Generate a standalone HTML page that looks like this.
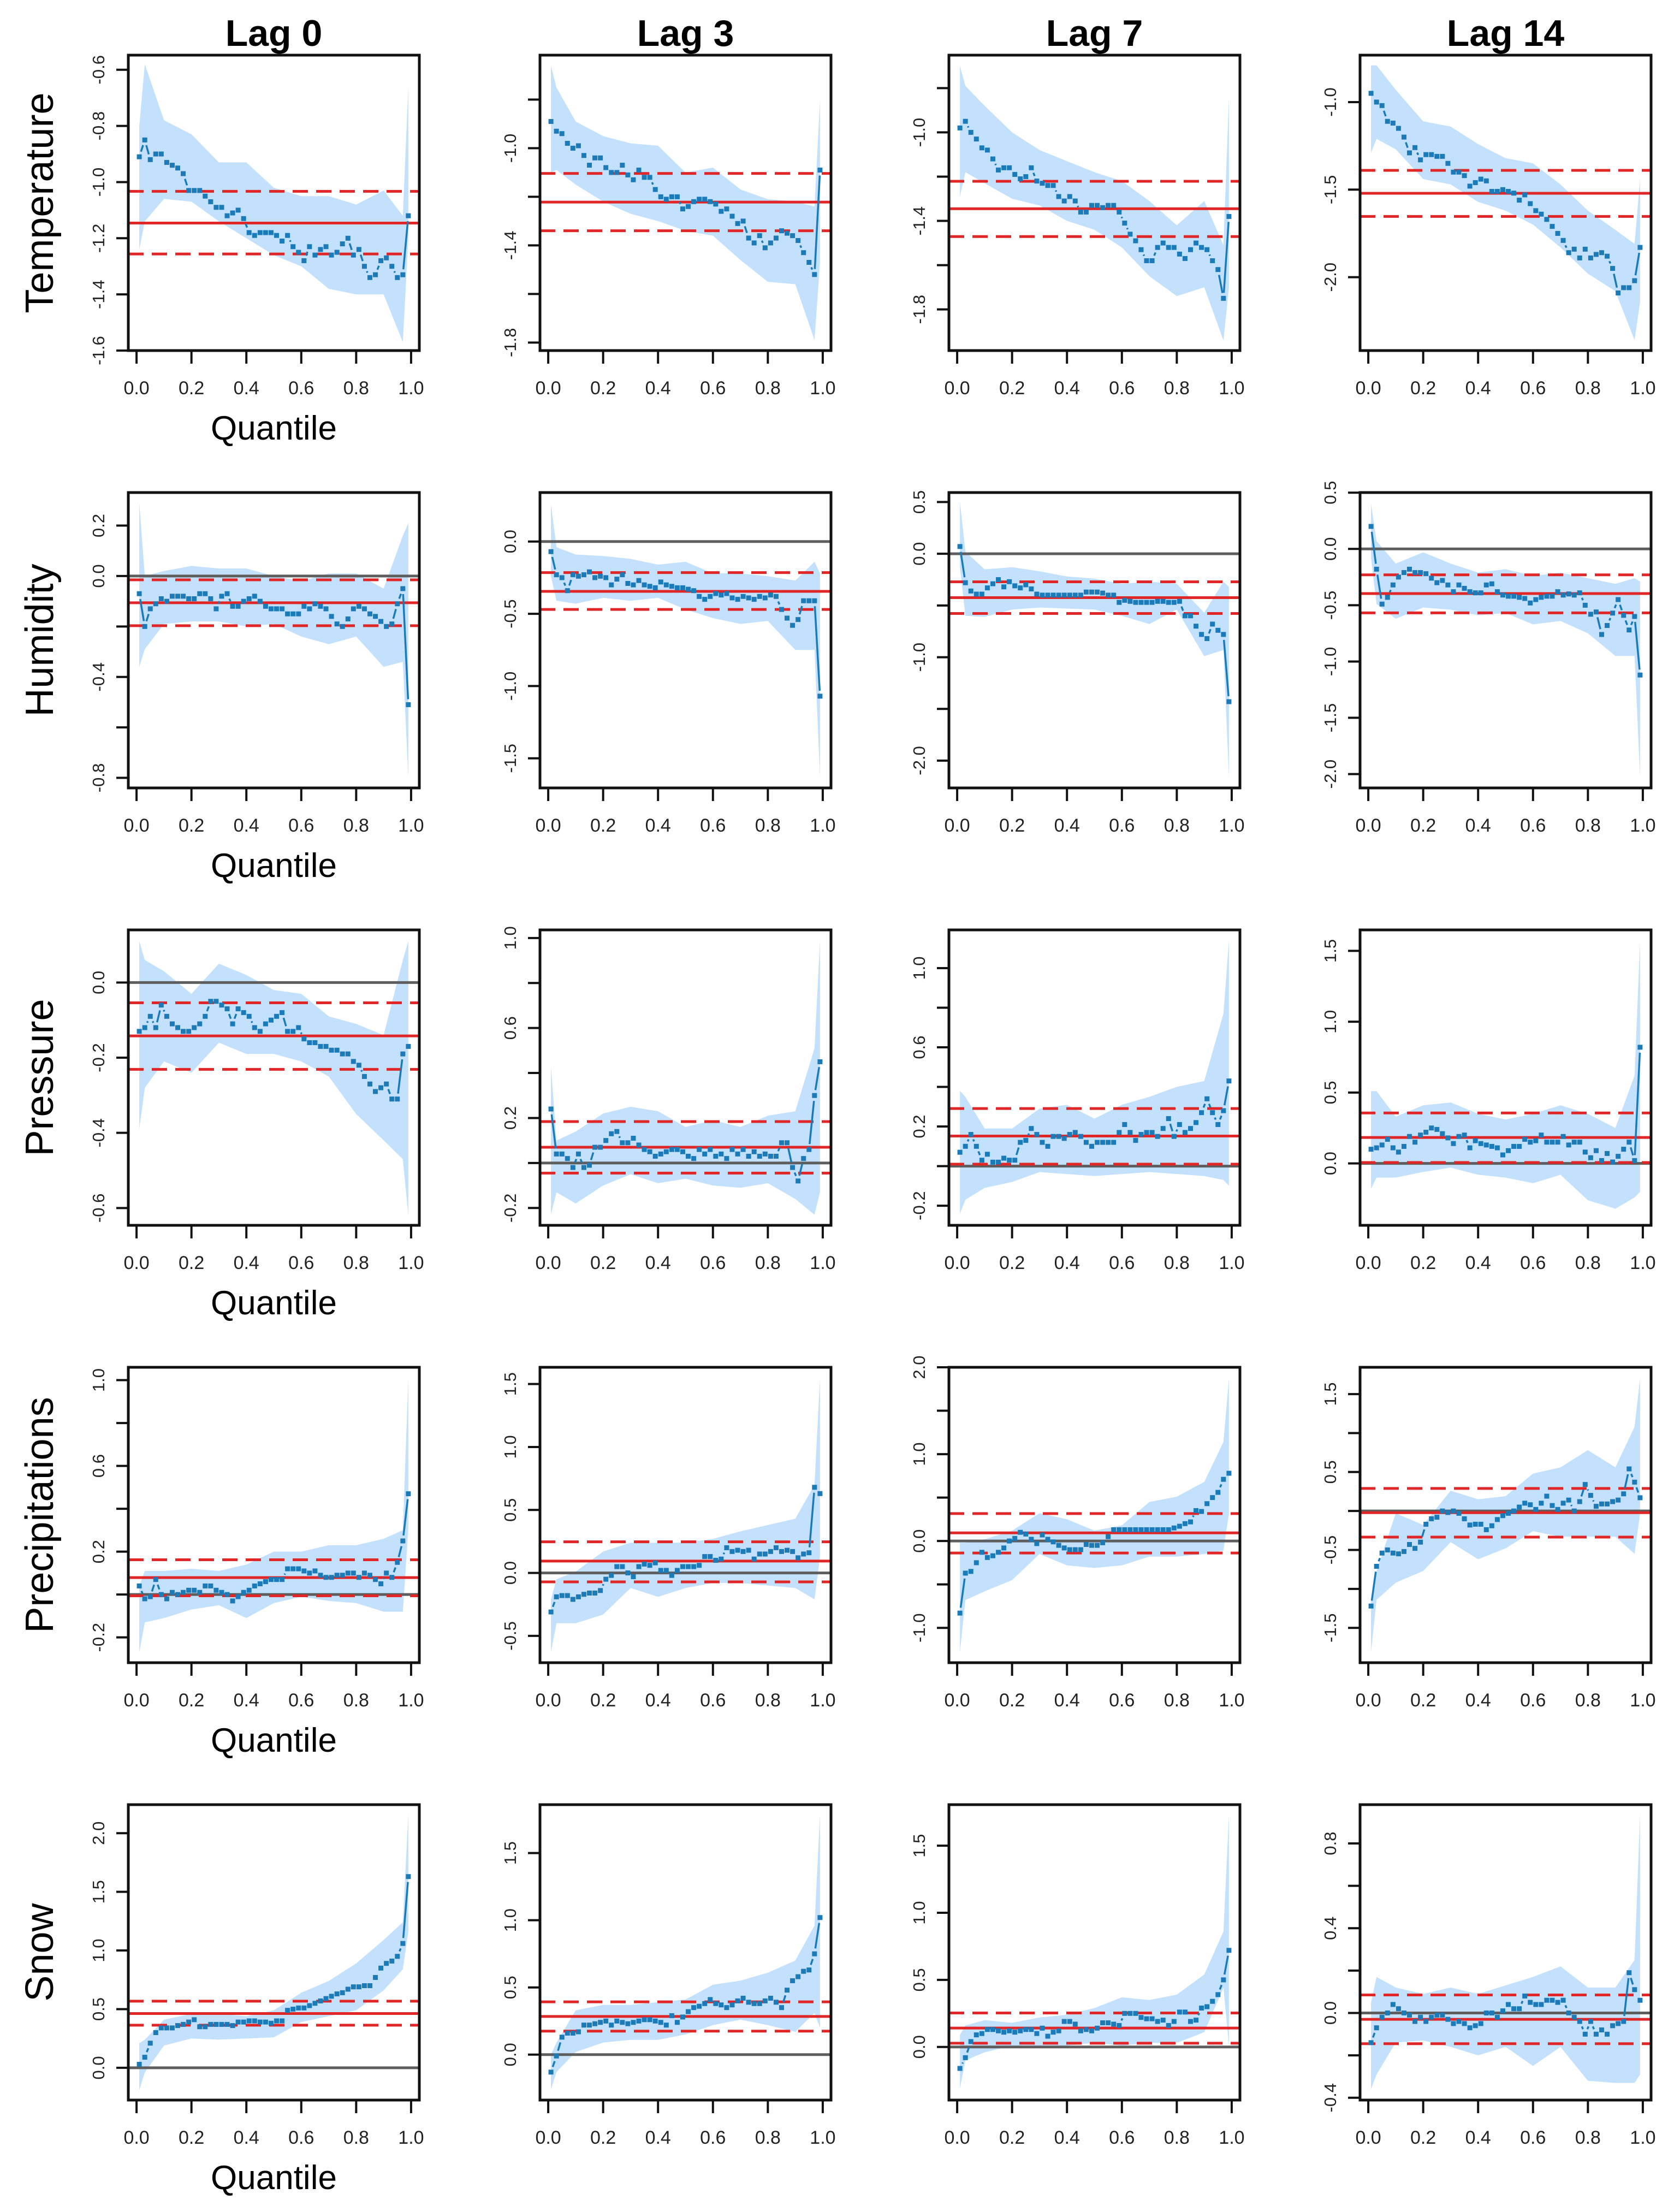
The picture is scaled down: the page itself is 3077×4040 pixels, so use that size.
<!DOCTYPE html>
<html><head><meta charset="utf-8"><title>Quantile effects by lag</title>
<style>
html,body{margin:0;padding:0;background:#fff;}
svg{display:block;font-family:"Liberation Sans",Arial,sans-serif;}
</style></head>
<body>
<svg id="fig" xmlns="http://www.w3.org/2000/svg" width="3077" height="4040" viewBox="0 0 3077 4040"></svg>
<script>
// ---------- DATA ----------
const quantiles = [0.01,0.03,0.05,0.07,0.09,0.11,0.13,0.15,0.17,0.19,0.21,0.23,0.25,0.27,0.29,0.31,0.33,0.35,0.37,0.39,0.41,0.43,0.45,0.47,0.49,0.51,0.53,0.55,0.57,0.59,0.61,0.63,0.65,0.67,0.69,0.71,0.73,0.75,0.77,0.79,0.81,0.83,0.85,0.87,0.89,0.91,0.93,0.95,0.97,0.99];
const bandX = [0.01,0.03,0.1,0.2,0.3,0.4,0.5,0.6,0.7,0.8,0.9,0.97,0.99];
const rowNames = ["Temperature","Humidity","Pressure","Precipitations","Snow"];
const lagNames = ["Lag 0","Lag 3","Lag 7","Lag 14"];
const xTickVals = [0,0.2,0.4,0.6,0.8,1.0];
const xTickLabels = ["0.0","0.2","0.4","0.6","0.8","1.0"];

// Mean estimate (solid red) and its bounds (dashed red), panel order row-major
const meanEst = [-1.146,-1.222,-1.345,-1.521, -0.106,-0.345,-0.424,-0.396, -0.142,0.070,0.152,0.183, 0.079,0.094,0.094,-0.022, 0.463,0.284,0.141,-0.030];
const meanHi  = [-1.033,-1.104,-1.221,-1.390, -0.015,-0.215,-0.271,-0.230, -0.054,0.184,0.291,0.356, 0.162,0.247,0.316,0.289, 0.568,0.393,0.253,0.085];
const meanLo  = [-1.256,-1.340,-1.471,-1.653, -0.197,-0.470,-0.577,-0.568, -0.231,-0.045,0.010,0.006, -0.006,-0.071,-0.138,-0.335, 0.363,0.175,0.028,-0.145];

// Quantile estimates (points)
const temp0 = [-0.91,-0.85,-0.92,-0.90,-0.90,-0.93,-0.94,-0.95,-0.97,-1.03,-1.03,-1.03,-1.05,-1.07,-1.09,-1.09,-1.12,-1.11,-1.10,-1.13,-1.18,-1.19,-1.18,-1.18,-1.18,-1.19,-1.21,-1.19,-1.23,-1.25,-1.28,-1.23,-1.26,-1.24,-1.23,-1.26,-1.25,-1.22,-1.20,-1.26,-1.24,-1.30,-1.34,-1.33,-1.28,-1.27,-1.30,-1.34,-1.33,-1.12];
const temp3 = [-0.89,-0.93,-0.94,-0.98,-1.00,-0.99,-1.03,-1.07,-1.04,-1.04,-1.08,-1.10,-1.10,-1.07,-1.11,-1.13,-1.09,-1.12,-1.12,-1.17,-1.20,-1.21,-1.20,-1.20,-1.25,-1.24,-1.22,-1.21,-1.21,-1.22,-1.23,-1.26,-1.25,-1.28,-1.31,-1.30,-1.37,-1.39,-1.36,-1.41,-1.39,-1.37,-1.34,-1.35,-1.36,-1.38,-1.43,-1.47,-1.52,-1.09];
const temp7 = [-0.98,-0.95,-1.00,-1.03,-1.07,-1.08,-1.12,-1.17,-1.16,-1.16,-1.19,-1.21,-1.20,-1.16,-1.22,-1.23,-1.24,-1.24,-1.29,-1.31,-1.29,-1.31,-1.36,-1.36,-1.33,-1.33,-1.34,-1.33,-1.33,-1.36,-1.41,-1.46,-1.49,-1.53,-1.58,-1.58,-1.52,-1.50,-1.52,-1.52,-1.55,-1.57,-1.53,-1.50,-1.52,-1.53,-1.58,-1.62,-1.75,-1.38];
const temp14 = [-0.95,-1.00,-1.02,-1.11,-1.12,-1.15,-1.20,-1.29,-1.26,-1.33,-1.30,-1.30,-1.31,-1.31,-1.35,-1.40,-1.40,-1.42,-1.48,-1.46,-1.44,-1.45,-1.51,-1.51,-1.50,-1.51,-1.52,-1.56,-1.53,-1.58,-1.62,-1.64,-1.67,-1.71,-1.75,-1.79,-1.86,-1.84,-1.89,-1.84,-1.89,-1.87,-1.86,-1.88,-1.95,-2.09,-2.06,-2.06,-2.02,-1.83];
const hum0 = [-0.07,-0.20,-0.13,-0.11,-0.09,-0.10,-0.08,-0.08,-0.08,-0.09,-0.09,-0.07,-0.07,-0.09,-0.13,-0.08,-0.07,-0.12,-0.12,-0.10,-0.09,-0.08,-0.10,-0.12,-0.13,-0.13,-0.13,-0.15,-0.15,-0.15,-0.12,-0.13,-0.11,-0.12,-0.13,-0.16,-0.19,-0.20,-0.17,-0.13,-0.12,-0.13,-0.15,-0.16,-0.18,-0.20,-0.19,-0.11,-0.05,-0.51];
const hum3 = [-0.07,-0.23,-0.25,-0.34,-0.23,-0.24,-0.23,-0.21,-0.25,-0.24,-0.25,-0.30,-0.26,-0.23,-0.29,-0.30,-0.27,-0.30,-0.31,-0.32,-0.28,-0.30,-0.31,-0.32,-0.32,-0.33,-0.34,-0.38,-0.40,-0.38,-0.36,-0.37,-0.36,-0.39,-0.40,-0.38,-0.39,-0.40,-0.38,-0.39,-0.37,-0.38,-0.47,-0.53,-0.58,-0.54,-0.41,-0.41,-0.41,-1.07];
const hum7 = [0.07,-0.28,-0.36,-0.39,-0.39,-0.33,-0.29,-0.25,-0.32,-0.27,-0.31,-0.33,-0.30,-0.34,-0.39,-0.40,-0.40,-0.40,-0.40,-0.40,-0.40,-0.40,-0.40,-0.37,-0.37,-0.37,-0.38,-0.40,-0.40,-0.47,-0.45,-0.46,-0.47,-0.47,-0.47,-0.47,-0.46,-0.46,-0.47,-0.47,-0.46,-0.60,-0.60,-0.70,-0.78,-0.82,-0.68,-0.74,-0.78,-1.43];
const hum14 = [0.20,-0.18,-0.49,-0.43,-0.32,-0.25,-0.21,-0.18,-0.21,-0.21,-0.22,-0.26,-0.30,-0.28,-0.32,-0.38,-0.32,-0.35,-0.38,-0.39,-0.39,-0.32,-0.31,-0.38,-0.41,-0.42,-0.42,-0.43,-0.44,-0.48,-0.45,-0.43,-0.42,-0.42,-0.38,-0.41,-0.40,-0.41,-0.39,-0.50,-0.58,-0.56,-0.76,-0.68,-0.57,-0.45,-0.59,-0.72,-0.60,-1.12];
const pres0 = [-0.13,-0.12,-0.09,-0.12,-0.06,-0.09,-0.11,-0.12,-0.13,-0.13,-0.12,-0.11,-0.09,-0.05,-0.05,-0.06,-0.07,-0.11,-0.07,-0.08,-0.09,-0.12,-0.13,-0.11,-0.10,-0.09,-0.08,-0.13,-0.13,-0.12,-0.15,-0.16,-0.16,-0.17,-0.17,-0.18,-0.18,-0.19,-0.19,-0.21,-0.22,-0.25,-0.27,-0.29,-0.28,-0.27,-0.31,-0.31,-0.19,-0.17];
const pres3 = [0.24,0.04,0.04,0.02,-0.02,0.04,-0.02,-0.01,0.07,0.07,0.10,0.13,0.14,0.09,0.09,0.11,0.08,0.06,0.05,0.03,0.04,0.05,0.06,0.06,0.05,0.03,0.02,0.06,0.04,0.06,0.03,0.04,0.02,0.06,0.04,0.06,0.03,0.05,0.03,0.04,0.03,0.03,0.09,0.09,-0.02,-0.08,0.02,0.06,0.30,0.45];
const pres7 = [0.07,0.10,0.16,0.10,0.03,0.06,0.02,0.02,0.04,0.03,0.03,0.12,0.13,0.19,0.16,0.12,0.10,0.15,0.15,0.14,0.16,0.17,0.15,0.12,0.10,0.12,0.12,0.12,0.12,0.17,0.21,0.17,0.13,0.16,0.17,0.17,0.15,0.19,0.24,0.15,0.21,0.17,0.19,0.22,0.27,0.34,0.27,0.21,0.28,0.43];
const pres14 = [0.10,0.11,0.13,0.17,0.11,0.08,0.12,0.19,0.15,0.20,0.22,0.25,0.24,0.21,0.18,0.14,0.19,0.20,0.11,0.16,0.14,0.13,0.12,0.11,0.06,0.09,0.12,0.12,0.17,0.15,0.16,0.20,0.15,0.15,0.15,0.19,0.13,0.15,0.15,0.08,0.04,0.09,0.02,0.07,0.01,0.05,0.10,0.15,0.02,0.82];
const prec0 = [0.04,-0.02,-0.01,0.07,0.00,-0.02,0.01,0.00,0.01,0.02,0.02,0.01,0.04,0.04,0.02,0.01,0.00,-0.03,-0.01,0.01,0.02,0.04,0.05,0.06,0.07,0.07,0.07,0.12,0.12,0.12,0.11,0.10,0.11,0.09,0.08,0.08,0.09,0.09,0.10,0.10,0.08,0.10,0.09,0.07,0.05,0.10,0.08,0.15,0.25,0.47];
const prec3 = [-0.31,-0.19,-0.18,-0.18,-0.21,-0.19,-0.17,-0.16,-0.16,-0.14,-0.05,-0.02,0.05,0.05,0.00,-0.03,0.05,0.07,0.06,0.08,0.02,0.02,-0.02,0.02,0.05,0.05,0.05,0.06,0.13,0.13,0.10,0.11,0.20,0.17,0.18,0.17,0.18,0.11,0.15,0.15,0.17,0.20,0.17,0.18,0.17,0.12,0.15,0.16,0.68,0.63];
const prec7 = [-0.83,-0.37,-0.35,-0.25,-0.13,-0.19,-0.17,-0.13,-0.08,0.00,0.03,0.10,0.08,0.02,-0.03,0.07,0.02,-0.01,-0.05,-0.08,-0.10,-0.10,-0.10,-0.04,-0.05,-0.05,-0.02,0.05,0.13,0.13,0.13,0.13,0.13,0.13,0.13,0.13,0.13,0.13,0.13,0.15,0.17,0.20,0.22,0.35,0.34,0.43,0.50,0.56,0.71,0.78];
const prec14 = [-1.22,-0.71,-0.54,-0.50,-0.54,-0.55,-0.52,-0.43,-0.48,-0.40,-0.17,-0.10,-0.08,0.00,-0.02,0.00,-0.03,-0.10,-0.18,-0.17,-0.17,-0.24,-0.19,-0.11,-0.06,-0.03,0.00,0.05,0.10,0.08,0.02,0.10,0.19,0.07,0.02,0.10,0.14,0.00,0.12,0.34,0.20,0.06,0.09,0.09,0.12,0.14,0.22,0.54,0.37,0.17];
const snow0 = [0.03,0.09,0.21,0.30,0.34,0.34,0.34,0.36,0.37,0.39,0.41,0.35,0.35,0.37,0.37,0.37,0.37,0.36,0.39,0.39,0.40,0.40,0.39,0.39,0.38,0.40,0.40,0.49,0.50,0.51,0.51,0.53,0.55,0.57,0.59,0.61,0.63,0.64,0.67,0.69,0.69,0.70,0.70,0.77,0.85,0.89,0.91,0.95,1.06,1.63];
const snow3 = [-0.13,-0.01,0.13,0.16,0.16,0.17,0.22,0.22,0.23,0.24,0.25,0.22,0.25,0.24,0.23,0.24,0.25,0.26,0.26,0.25,0.24,0.22,0.29,0.24,0.28,0.32,0.35,0.36,0.38,0.41,0.38,0.37,0.35,0.37,0.40,0.42,0.39,0.38,0.38,0.40,0.42,0.39,0.35,0.48,0.55,0.58,0.62,0.63,0.75,1.02];
const snow7 = [-0.16,-0.08,0.04,0.09,0.10,0.13,0.13,0.12,0.11,0.12,0.11,0.12,0.13,0.13,0.10,0.14,0.08,0.11,0.12,0.19,0.19,0.17,0.12,0.13,0.12,0.14,0.18,0.18,0.17,0.16,0.25,0.25,0.25,0.22,0.21,0.21,0.19,0.20,0.16,0.19,0.26,0.26,0.19,0.20,0.29,0.30,0.34,0.39,0.50,0.72];
const snow14 = [-0.14,-0.07,-0.02,0.00,0.04,0.02,0.00,-0.01,-0.04,-0.02,-0.04,-0.02,-0.01,-0.01,-0.03,-0.05,-0.04,-0.05,-0.07,-0.06,-0.05,0.00,0.00,-0.02,0.01,0.04,0.02,0.02,0.08,0.05,0.04,0.04,0.06,0.06,0.05,0.06,0.00,-0.02,-0.04,-0.10,-0.04,-0.10,-0.08,-0.10,-0.06,-0.05,-0.04,0.19,0.11,0.06];

// Confidence bands (upper / lower) at bandX
const temp0Hi=[-0.80,-0.58,-0.78,-0.83,-0.93,-0.93,-1.02,-1.05,-1.05,-1.08,-1.03,-1.12,-0.66];
const temp0Lo=[-1.24,-1.14,-1.06,-1.07,-1.14,-1.20,-1.26,-1.30,-1.38,-1.40,-1.40,-1.57,-1.20];
const temp3Hi=[-0.66,-0.75,-0.89,-0.95,-0.98,-0.99,-1.10,-1.08,-1.17,-1.21,-1.22,-1.24,-0.80];
const temp3Lo=[-1.10,-1.09,-1.15,-1.22,-1.27,-1.30,-1.34,-1.36,-1.46,-1.55,-1.56,-1.79,-1.47];
const temp7Hi=[-0.70,-0.79,-0.88,-1.00,-1.08,-1.13,-1.18,-1.22,-1.31,-1.42,-1.31,-1.51,-0.84];
const temp7Lo=[-1.29,-1.18,-1.23,-1.30,-1.33,-1.40,-1.44,-1.52,-1.65,-1.74,-1.70,-1.94,-1.70];
const temp14Hi=[-0.79,-0.79,-0.93,-1.11,-1.14,-1.24,-1.32,-1.35,-1.47,-1.62,-1.73,-1.81,-1.44];
const temp14Lo=[-1.29,-1.21,-1.27,-1.44,-1.47,-1.57,-1.62,-1.70,-1.83,-1.98,-2.08,-2.36,-2.14];
const hum0Hi=[0.29,0.00,0.02,0.04,0.03,0.03,0.00,-0.02,0.01,0.01,-0.05,0.16,0.21];
const hum0Lo=[-0.36,-0.29,-0.19,-0.18,-0.18,-0.20,-0.19,-0.24,-0.27,-0.24,-0.36,-0.34,-0.80];
const hum3Hi=[0.26,-0.04,-0.09,-0.10,-0.12,-0.16,-0.14,-0.22,-0.22,-0.24,-0.27,-0.14,-0.22];
const hum3Lo=[-0.24,-0.41,-0.43,-0.39,-0.41,-0.39,-0.47,-0.53,-0.57,-0.55,-0.75,-0.75,-1.63];
const hum7Hi=[0.50,0.02,-0.15,-0.13,-0.17,-0.22,-0.24,-0.29,-0.27,-0.29,-0.57,-0.27,-0.32];
const hum7Lo=[-0.13,-0.60,-0.61,-0.54,-0.52,-0.53,-0.54,-0.60,-0.68,-0.54,-0.99,-0.93,-2.16];
const hum14Hi=[0.40,0.07,-0.13,-0.03,-0.13,-0.21,-0.18,-0.24,-0.21,-0.26,-0.31,-0.26,-0.29];
const hum14Lo=[-0.08,-0.49,-0.62,-0.52,-0.54,-0.59,-0.57,-0.67,-0.64,-0.75,-0.95,-0.95,-2.03];
const pres0Hi=[0.11,0.06,0.03,-0.03,0.05,0.02,-0.02,-0.03,-0.09,-0.11,-0.14,0.06,0.11];
const pres0Lo=[-0.39,-0.28,-0.21,-0.24,-0.16,-0.19,-0.19,-0.21,-0.25,-0.35,-0.42,-0.47,-0.62];
const pres3Hi=[0.43,0.10,0.14,0.22,0.25,0.23,0.16,0.19,0.16,0.21,0.23,0.51,0.99];
const pres3Lo=[-0.23,-0.13,-0.18,-0.10,-0.05,-0.09,-0.07,-0.10,-0.11,-0.09,-0.16,-0.23,-0.13];
const pres7Hi=[0.38,0.35,0.19,0.19,0.29,0.31,0.24,0.31,0.35,0.40,0.43,0.77,1.14];
const pres7Lo=[-0.24,-0.17,-0.11,-0.08,-0.03,-0.04,-0.05,-0.04,-0.03,-0.04,-0.05,-0.07,-0.10];
const pres14Hi=[0.51,0.51,0.33,0.41,0.43,0.35,0.31,0.35,0.41,0.35,0.25,0.62,1.57];
const pres14Lo=[-0.18,-0.10,-0.10,-0.06,-0.03,-0.08,-0.10,-0.14,-0.08,-0.26,-0.32,-0.24,-0.20];
const prec0Hi=[0.04,0.11,0.11,0.12,0.11,0.14,0.20,0.20,0.23,0.23,0.26,0.30,1.01];
const prec0Lo=[-0.27,-0.13,-0.11,-0.07,-0.05,-0.11,-0.04,-0.01,-0.03,-0.04,-0.08,-0.08,0.31];
const prec3Hi=[-0.21,-0.05,0.01,0.17,0.24,0.24,0.24,0.27,0.33,0.38,0.43,0.70,1.55];
const prec3Lo=[-0.63,-0.40,-0.40,-0.33,-0.12,-0.19,-0.12,-0.08,-0.08,-0.10,-0.12,-0.21,0.13];
const prec7Hi=[-0.02,-0.02,0.02,0.12,0.32,0.25,0.12,0.18,0.45,0.51,0.68,1.14,1.87];
const prec7Lo=[-1.28,-0.68,-0.58,-0.45,-0.15,-0.28,-0.31,-0.28,-0.18,-0.18,-0.15,-0.11,0.32];
const prec14Hi=[-1.14,-0.77,-0.03,-0.18,0.26,0.15,0.19,0.48,0.56,0.78,0.56,1.08,1.70];
const prec14Lo=[-1.81,-1.14,-0.92,-0.77,-0.40,-0.62,-0.48,-0.26,-0.33,-0.33,-0.33,-0.55,-0.03];
const snow0Hi=[0.21,0.24,0.41,0.46,0.46,0.44,0.49,0.64,0.74,0.89,1.09,1.24,2.16];
const snow0Lo=[-0.19,-0.04,0.19,0.25,0.24,0.25,0.26,0.39,0.44,0.49,0.66,0.84,1.16];
const snow3Hi=[0.00,0.09,0.33,0.37,0.37,0.39,0.41,0.52,0.55,0.61,0.70,0.96,1.79];
const snow3Lo=[-0.26,-0.13,0.02,0.09,0.11,0.11,0.15,0.22,0.26,0.22,0.17,0.31,0.20];
const snow7Hi=[0.09,0.16,0.20,0.18,0.22,0.24,0.29,0.37,0.35,0.39,0.54,0.86,1.73];
const snow7Lo=[-0.31,-0.10,-0.04,0.01,0.01,0.01,0.03,0.01,0.03,0.03,0.11,0.44,0.01];
const snow14Hi=[0.05,0.17,0.12,0.09,0.12,0.09,0.13,0.17,0.22,0.12,0.12,0.25,0.94];
const snow14Lo=[-0.36,-0.29,-0.14,-0.13,-0.16,-0.20,-0.16,-0.25,-0.16,-0.32,-0.33,-0.33,-0.29];

// Y axis ticks (labels '' = unlabeled tick)
const yTicks = [
 [-0.6,-0.8,-1.0,-1.2,-1.4,-1.6],[-0.8,-1.0,-1.2,-1.4,-1.6,-1.8],[-0.8,-1.0,-1.2,-1.4,-1.6,-1.8],[-1.0,-1.5,-2.0],
 [0.2,0.0,-0.2,-0.4,-0.6,-0.8],[0.0,-0.5,-1.0,-1.5],[0.5,0.0,-0.5,-1.0,-1.5,-2.0],[0.5,0.0,-0.5,-1.0,-1.5,-2.0],
 [0.0,-0.2,-0.4,-0.6],[1.0,0.8,0.6,0.4,0.2,0.0,-0.2],[1.0,0.8,0.6,0.4,0.2,0.0,-0.2],[1.5,1.0,0.5,0.0],
 [1.0,0.8,0.6,0.4,0.2,0.0,-0.2],[1.5,1.0,0.5,0.0,-0.5],[2.0,1.5,1.0,0.5,0.0,-0.5,-1.0],[1.5,1.0,0.5,0.0,-0.5,-1.0,-1.5],
 [2.0,1.5,1.0,0.5,0.0],[1.5,1.0,0.5,0.0],[1.5,1.0,0.5,0.0],[0.8,0.6,0.4,0.2,0.0,-0.2,-0.4]];
const yTickLabels = [
 ["-0.6","-0.8","-1.0","-1.2","-1.4","-1.6"],["","-1.0","","-1.4","","-1.8"],["","-1.0","","-1.4","","-1.8"],["-1.0","-1.5","-2.0"],
 ["0.2","0.0","","-0.4","","-0.8"],["0.0","-0.5","-1.0","-1.5"],["0.5","0.0","","-1.0","","-2.0"],["0.5","0.0","-0.5","-1.0","-1.5","-2.0"],
 ["0.0","-0.2","-0.4","-0.6"],["1.0","","0.6","","0.2","","-0.2"],["1.0","","0.6","","0.2","","-0.2"],["1.5","1.0","0.5","0.0"],
 ["1.0","","0.6","","0.2","","-0.2"],["1.5","1.0","0.5","0.0","-0.5"],["2.0","","1.0","","0.0","","-1.0"],["1.5","","0.5","","-0.5","","-1.5"],
 ["2.0","1.5","1.0","0.5","0.0"],["1.5","1.0","0.5","0.0"],["1.5","1.0","0.5","0.0"],["0.8","","0.4","","0.0","","-0.4"]];
// y axis limits [top, bottom] of each plot box
const yLimTop = [-0.548,-0.617,-0.651,-0.732, 0.331,0.339,0.592,0.501, 0.140,1.036,1.193,1.648, 1.060,1.633,2.000,1.844, 2.243,1.860,1.806,0.983];
const yLimBot = [-1.600,-1.833,-1.986,-2.419, -0.840,-1.705,-2.264,-2.123, -0.646,-0.277,-0.299,-0.437, -0.318,-0.713,-1.401,-1.947, -0.275,-0.338,-0.396,-0.411];

const pointSets = [temp0,temp3,temp7,temp14,hum0,hum3,hum7,hum14,pres0,pres3,pres7,pres14,prec0,prec3,prec7,prec14,snow0,snow3,snow7,snow14];
const bandHi = [temp0Hi,temp3Hi,temp7Hi,temp14Hi,hum0Hi,hum3Hi,hum7Hi,hum14Hi,pres0Hi,pres3Hi,pres7Hi,pres14Hi,prec0Hi,prec3Hi,prec7Hi,prec14Hi,snow0Hi,snow3Hi,snow7Hi,snow14Hi];
const bandLo = [temp0Lo,temp3Lo,temp7Lo,temp14Lo,hum0Lo,hum3Lo,hum7Lo,hum14Lo,pres0Lo,pres3Lo,pres7Lo,pres14Lo,prec0Lo,prec3Lo,prec7Lo,prec14Lo,snow0Lo,snow3Lo,snow7Lo,snow14Lo];

// ---------- LAYOUT ----------
const colLeft = [235, 989, 1738, 2491];
const rowTop0 = 101, rowStep = 801, boxW = 533, boxH = 541;
const NS = "http://www.w3.org/2000/svg";
const svg = document.getElementById('fig');
function mk(tag, attrs, parent){
  const e = document.createElementNS(NS, tag);
  for (const k in attrs) e.setAttribute(k, attrs[k]);
  (parent||svg).appendChild(e);
  return e;
}

for (let r = 0; r < 5; r++){
  for (let c = 0; c < 4; c++){
    const p = r*4 + c;
    const L = colLeft[c], T = rowTop0 + r*rowStep, R = L + boxW, B = T + boxH;
    const g = mk('g', {});
    
    
    const xs = v => L + (v + 0.03) / 1.06 * boxW;
    const ys = v => T + (yLimTop[p] - v) / (yLimTop[p] - yLimBot[p]) * boxH;
    const clipId = 'clip' + p;
    const cp = mk('clipPath', {id: clipId}, g);
    mk('rect', {x: L, y: T, width: boxW, height: boxH}, cp);
    const inner = mk('g', {'clip-path': 'url(#' + clipId + ')'}, g);

    // band
    const hi = bandHi[p], lo = bandLo[p];
    let d = '';
    for (let i = 0; i < bandX.length; i++) d += (i ? 'L' : 'M') + xs(bandX[i]).toFixed(1) + ',' + ys(hi[i]).toFixed(1);
    for (let i = bandX.length - 1; i >= 0; i--) d += 'L' + xs(bandX[i]).toFixed(1) + ',' + ys(lo[i]).toFixed(1);
    const band = mk('path', {d: d + 'Z', fill: '#c3e1fd', stroke: 'none'}, inner);
    
    

    // zero line
    if (yLimBot[p] < 0 && yLimTop[p] > 0){
      const z = mk('line', {x1: L, x2: R, y1: ys(0), y2: ys(0), stroke: '#5e5e5e', 'stroke-width': 5}, inner);
      
      
    }
    // mean lines
    const ml = mk('line', {x1: L, x2: R, y1: ys(meanEst[p]), y2: ys(meanEst[p]), stroke: '#e02626', 'stroke-width': 5}, inner);
    
    
    [meanHi[p], meanLo[p]].forEach((v, k) => {
      const dl = mk('line', {x1: L, x2: R, y1: ys(v), y2: ys(v), stroke: '#e02626', 'stroke-width': 5, 'stroke-dasharray': '28,15'}, inner);
      
      
    });

    // points with connecting line gaps (type="b")
    const pts = pointSets[p];
    for (let i = 0; i < pts.length - 1; i++){
      const x1 = xs(quantiles[i]), y1 = ys(pts[i]), x2 = xs(quantiles[i+1]), y2 = ys(pts[i+1]);
      const len = Math.hypot(x2 - x1, y2 - y1), gap = 10;
      if (len > 2*gap + 2){
        const ux = (x2 - x1)/len, uy = (y2 - y1)/len;
        const sg = mk('line', {x1: x1 + ux*gap, y1: y1 + uy*gap, x2: x2 - ux*gap, y2: y2 - uy*gap, stroke: '#1b7ab8', 'stroke-width': 3.5}, inner);
        
        
      }
    }
    for (let i = 0; i < pts.length; i++){
      const pt = mk('rect', {x: xs(quantiles[i]) - 4.5, y: ys(pts[i]) - 4.5, width: 9, height: 9, fill: '#1b7ab8'}, inner);
      
      
    }

    // box
    const box = mk('rect', {x: L, y: T, width: boxW, height: boxH, fill: 'none', stroke: '#111', 'stroke-width': 5}, g);
    
    

    // x axis ticks & labels
    for (let i = 0; i < xTickVals.length; i++){
      const x = xs(xTickVals[i]);
      mk('line', {x1: x, x2: x, y1: B, y2: B + 24, stroke: '#111', 'stroke-width': 4}, g);
      const t = mk('text', {x: x, y: B + 80, 'font-size': 34, 'text-anchor': 'middle', fill: '#222'}, g);
      t.textContent = xTickLabels[i];
      
      
    }
    // y axis ticks & labels
    const yt = yTicks[p], yl = yTickLabels[p];
    for (let i = 0; i < yt.length; i++){
      const y = ys(yt[i]);
      if (y < T - 3 || y > B + 3) continue;
      mk('line', {x1: L - 22, x2: L, y1: y, y2: y, stroke: '#111', 'stroke-width': 4}, g);
      if (yl[i]){
        const t = mk('text', {x: L - 44, y: y, 'font-size': 31, 'text-anchor': 'middle', fill: '#222', transform: 'rotate(-90 ' + (L - 44) + ' ' + y + ')'}, g);
        t.textContent = yl[i];
        
        
      }
    }
    // titles
    if (r === 0){
      const tt = mk('text', {x: L + boxW/2, y: T - 17, 'font-size': 68, 'font-weight': 'bold', 'text-anchor': 'middle', fill: '#000'}, svg);
      tt.textContent = lagNames[c];
      
      
    }
    if (c === 0){
      const q = mk('text', {x: L + boxW/2, y: B + 163, 'font-size': 62, 'text-anchor': 'middle', fill: '#000'}, svg);
      q.textContent = 'Quantile';
      
      
      const cy = T + boxH/2;
      const rl = mk('text', {x: 97, y: cy, 'font-size': 72, 'text-anchor': 'middle', fill: '#000', transform: 'rotate(-90 97 ' + cy + ')'}, svg);
      rl.textContent = rowNames[r];
      
      
    }
  }
}
</script>
</body></html>
